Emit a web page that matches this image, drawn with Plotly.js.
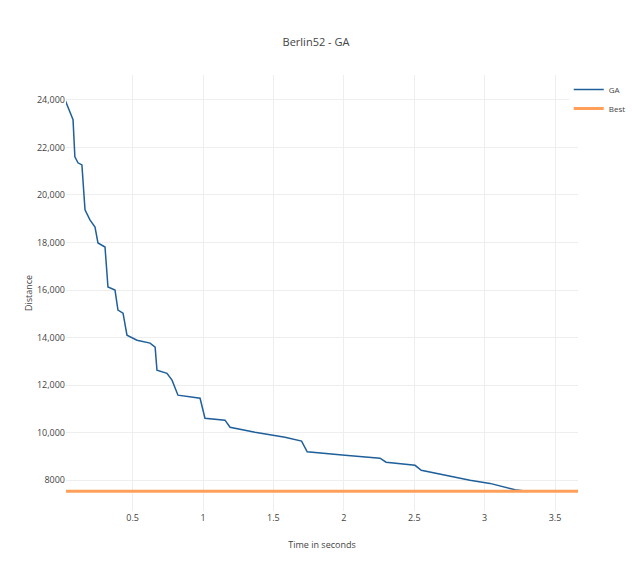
<!DOCTYPE html>
<html>
<head>
<meta charset="utf-8">
<script src="https://cdn.plot.ly/plotly-3.0.1.min.js"></script>
<style>html,body{margin:0;padding:0;background:#fff;}#chart{width:632px;height:562px;}</style>
</head>
<body>
<div id="chart"></div>
<script>
const chartTitle = "Berlin52 - GA";
const xTitle = "Time in seconds";
const yTitle = "Distance";
const gaName = "GA";
const bestName = "Best";

const gaTime = [0.006, 0.02, 0.077, 0.09, 0.112, 0.14, 0.162, 0.197, 0.233, 0.254, 0.304, 0.325, 0.375, 0.396, 0.432, 0.46, 0.531, 0.624, 0.66, 0.673, 0.744, 0.78, 0.822, 0.979, 1.014, 1.156, 1.192, 1.369, 1.582, 1.70, 1.74, 2.008, 2.257, 2.30, 2.506, 2.55, 2.719, 2.896, 3.038, 3.145, 3.216, 3.30, 3.663];
const gaDist = [24210, 24000, 23160, 21600, 21350, 21260, 19370, 18950, 18650, 17980, 17810, 16130, 16000, 15160, 15030, 14100, 13890, 13770, 13600, 12630, 12500, 12210, 11580, 11450, 10610, 10530, 10230, 10020, 9810, 9650, 9200, 9050, 8930, 8760, 8630, 8420, 8210, 8000, 7870, 7700, 7600, 7542, 7542];

const bestTime = [0.006, 3.663];
const bestDist = [7542, 7542];

const traces = [
  {x: gaTime, y: gaDist, name: gaName, type: "scatter", mode: "lines",
   line: {color: "#1f5f9a", width: 1.5}},
  {x: bestTime, y: bestDist, name: bestName, type: "scatter", mode: "lines",
   line: {color: "#ff9f5a", width: 3}}
];

const layout = {
  width: 632, height: 562,
  font: {family: "Open Sans, sans-serif", size: 9, color: "#444"},
  title: {text: chartTitle, font: {size: 11, color: "#444"}, x: 0.5, xanchor: "center", y: 0.925, yanchor: "middle"},
  margin: {l: 66, r: 54, t: 75, b: 51, autoexpand: false},
  paper_bgcolor: "#fff", plot_bgcolor: "#fff",
  xaxis: {title: {text: xTitle, font: {size: 9}}, range: [0.027, 3.663], dtick: 0.5, tick0: 0,
          gridcolor: "#eee", zeroline: false, showline: false},
  yaxis: {title: {text: yTitle, font: {size: 9}}, range: [6709, 25043], dtick: 2000, tick0: 0,
          exponentformat: "none", gridcolor: "#eee", zeroline: false, showline: false},
  legend: {xref: "container", x: 0.998, y: 1.0, xanchor: "right", yanchor: "top", font: {size: 8}},
  showlegend: true
};

Plotly.newPlot("chart", traces, layout, {displayModeBar: false});
</script>
</body>
</html>
